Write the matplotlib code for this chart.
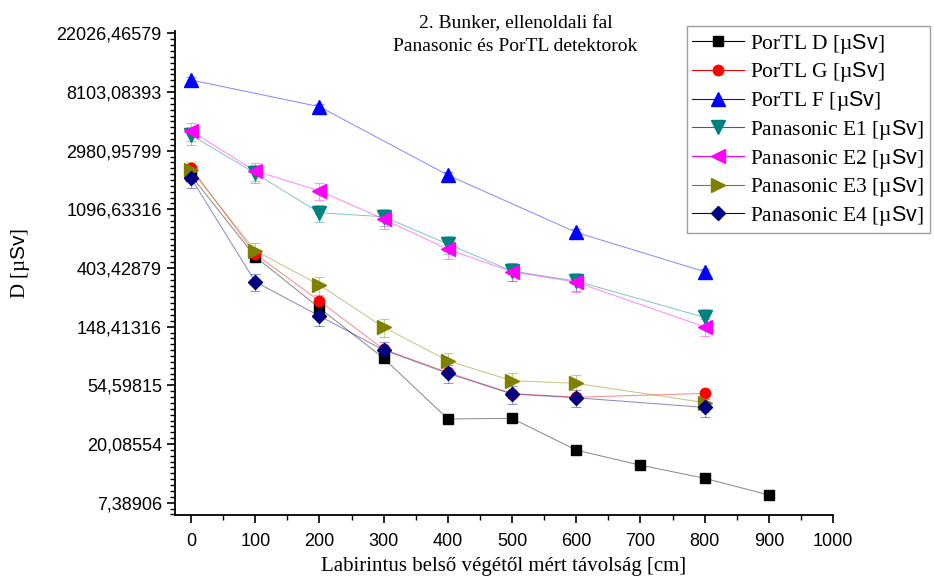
import numpy as np
import matplotlib
matplotlib.use("Agg")
import matplotlib.pyplot as plt
from matplotlib.ticker import FixedLocator, FuncFormatter

plt.rcParams['font.family'] = ['Liberation Sans', 'DejaVu Sans']
plt.rcParams['mathtext.fontset'] = 'custom'
plt.rcParams['mathtext.sf'] = 'Liberation Sans'
plt.rcParams['mathtext.rm'] = 'Liberation Serif'

# distances [cm]
x_d = [0, 100, 200, 300, 400, 500, 600, 700, 800, 900]
x_f = [0, 200, 400, 600, 800]
x_e = [0, 100, 200, 300, 400, 500, 600, 800]

# dose values [uSv]
portl_d = [1950, 489, 204, 86.6, 30.8, 31.1, 18.1, 14.0, 11.2, 8.42]
portl_g = [2227, 512, 230, 101, 68.0, 47.5, 44.6, 47.6]
portl_f = [9950, 6310, 1967, 741, 379]
pana_e1 = [3890, 2026, 1035, 967, 607, 383, 323, 174]
pana_e2 = [4170, 2108, 1506, 930, 555, 379, 317, 148]
pana_e3 = [2140, 542, 302, 147, 83.1, 59.1, 56.5, 40.7]
pana_e4 = [1870, 319, 178, 99.7, 67.0, 47.1, 44.2, 37.5]

# relative uncertainty of each series (error bars)
err_d, err_g, err_f = 0.0, 0.0, 0.05
err_e1, err_e2, err_e3, err_e4 = 0.15, 0.15, 0.15, 0.15

labels = ["PorTL D", "PorTL G", "PorTL F", "Panasonic E1",
          "Panasonic E2", "Panasonic E3", "Panasonic E4"]

series = [
    (x_d, portl_d, err_d, 's', '#000000'),
    (x_e, portl_g, err_g, 'o', '#ff0000'),
    (x_f, portl_f, err_f, '^', '#0000ff'),
    (x_e, pana_e1, err_e1, 'v', '#008080'),
    (x_e, pana_e2, err_e2, '<', '#ff00ff'),
    (x_e, pana_e3, err_e3, '>', '#808000'),
    (x_e, pana_e4, err_e4, 'D', '#000080'),
]

fig = plt.figure(figsize=(9.34, 5.81), dpi=100)
ax = fig.add_axes([0.1874, 0.1136, 0.7045, 0.833])

for (xs, ys, rel, mk, col), lab in zip(series, labels):
    ys = np.array(ys)
    ms = 7.5 if mk in ('s', 'D', 'o') else 9.5
    if rel > 0:
        ax.errorbar(xs, ys, yerr=ys * rel, fmt='none', ecolor=col, alpha=0.4,
                    elinewidth=0.8, capsize=3.5, capthick=0.8)
    ax.plot(xs, ys, color=col, lw=0.75, alpha=0.45, zorder=2)
    ax.plot(xs, ys, linestyle='none', marker=mk, ms=ms, color=col,
            markeredgecolor=col, zorder=3)
    ax.plot([], [], color=col, lw=0.8, marker=mk, ms=ms,
            label=lab + r" [µ$\mathsf{Sv}$]")

ax.set_yscale('log', base=np.e)
ax.set_ylim(np.exp(1.79), np.exp(10.04))
ax.set_xlim(-25, 1000)

major = [np.exp(k) for k in range(2, 11)]
minor = [np.exp(k + j / 10) for k in range(1, 11) for j in range(1, 10)]
ax.yaxis.set_major_locator(FixedLocator(major))
ax.yaxis.set_minor_locator(FixedLocator(minor))
ax.yaxis.set_major_formatter(FuncFormatter(lambda v, p: f"{v:.5f}".replace('.', ',')))
ax.yaxis.set_minor_formatter(FuncFormatter(lambda v, p: ""))

ax.xaxis.set_major_locator(FixedLocator(range(0, 1001, 100)))
ax.xaxis.set_minor_locator(FixedLocator(range(50, 1000, 100)))

for sp in ('top', 'right'):
    ax.spines[sp].set_visible(False)
for sp in ('left', 'bottom'):
    ax.spines[sp].set_linewidth(1.3)

ax.tick_params(which='major', direction='out', length=6, width=1.2, labelsize=13)
ax.tick_params(which='minor', direction='out', length=3.5, width=1.0)
ax.tick_params(axis='x', which='major', pad=7)

ax.set_xlabel("Labirintus belső végétől mért távolság [cm]",
              family='Liberation Serif', fontsize=15, labelpad=5)
ax.set_ylabel(r"D [µ$\mathsf{Sv}$]", family='Liberation Serif', fontsize=15)
ax.yaxis.set_label_coords(-0.218, 0.52)

fig.text(0.552, 0.974, "2. Bunker, ellenoldali fal\nPanasonic és PorTL detektorok",
         ha='center', va='top', family='Liberation Serif', fontsize=14,
         linespacing=1.45)

leg = ax.legend(loc='upper right', bbox_to_anchor=(1.147, 1.01),
                prop={'family': 'Liberation Serif', 'size': 15.5},
                frameon=True, fancybox=False, edgecolor='#888888',
                handlelength=2.4, handletextpad=0.3, borderpad=0.25,
                labelspacing=0.22, borderaxespad=0)
leg.get_frame().set_linewidth(1.0)

fig.savefig("out.png", dpi=100)
